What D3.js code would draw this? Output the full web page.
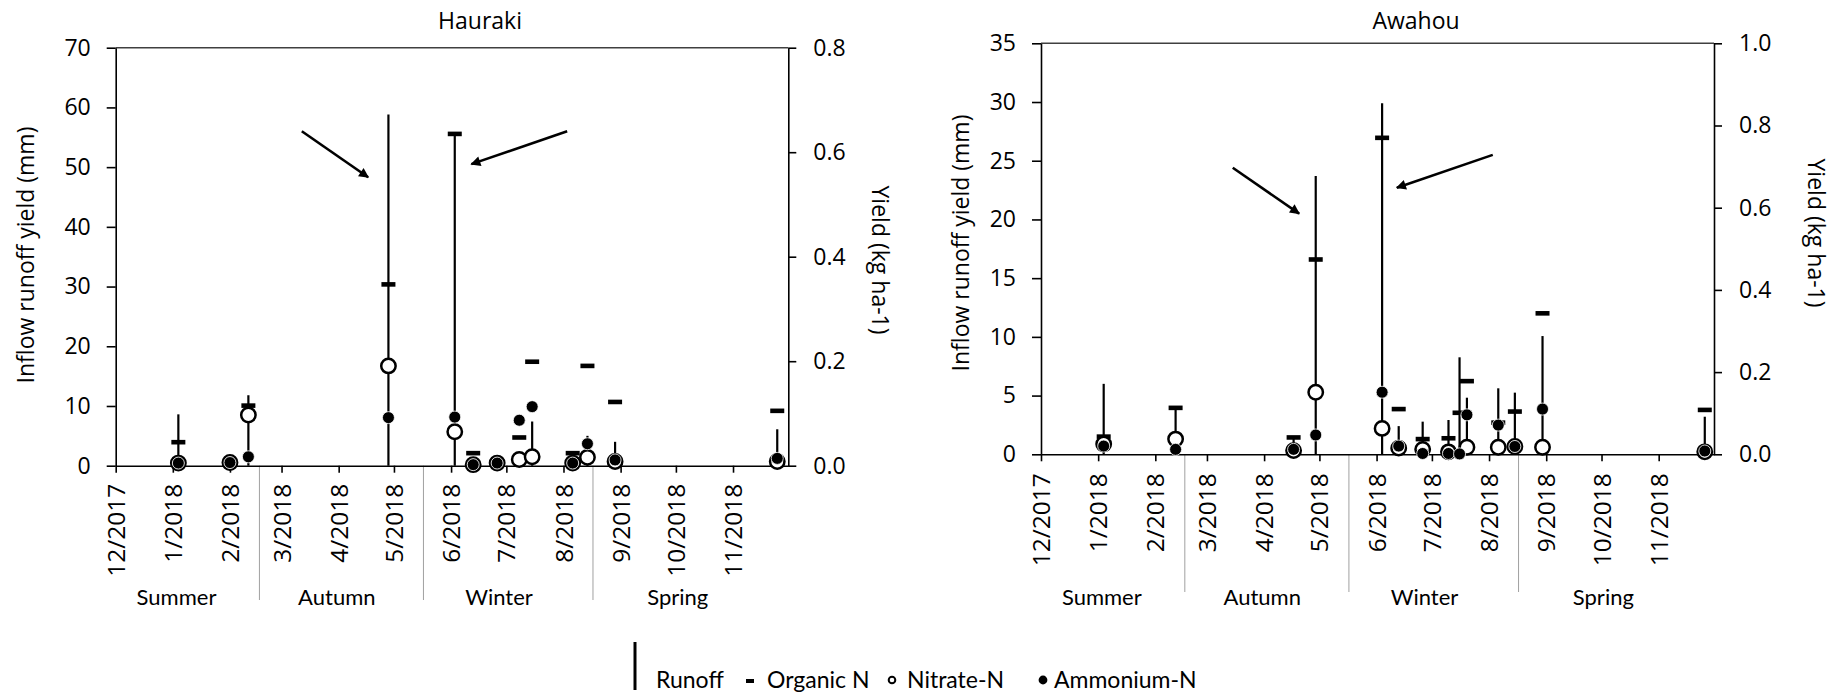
<!DOCTYPE html>
<html>
<head>
<meta charset="utf-8">
<script src="https://cdn.jsdelivr.net/npm/d3@7"></script>
<style>
    body { margin: 0; background: #fff; }
    svg { display: block; }
    text { font-family: 'Open Sans', sans-serif; fill: #000; }
    .season, .legend text { font-family: Lato, sans-serif; }
</style>
</head>
<body>
<div class="chart"></div>
<script>
const parseDate = d3.timeParse('%Y-%m-%d')

// shared time axis
const monthLabels = ['12/2017', '1/2018', '2/2018', '3/2018', '4/2018', '5/2018',
    '6/2018', '7/2018', '8/2018', '9/2018', '10/2018', '11/2018']
const seasons = ['Summer', 'Autumn', 'Winter', 'Spring']
const seasonLabelDates = ['2018-01-03', '2018-03-31', '2018-06-27', '2018-10-02']
const seasonBreaks = ['2018-02-17', '2018-05-17', '2018-08-17']

// Hauraki (runoff in mm, N yields in kg ha-1)
const haurakiDates = ['2018-01-04', '2018-02-01', '2018-02-11', '2018-04-28', '2018-06-03',
    '2018-06-13', '2018-06-26', '2018-07-08', '2018-07-15', '2018-08-06', '2018-08-14',
    '2018-08-29', '2018-11-25']
const haurakiRunoff = [8.6, 0.8, 11.8, 58.8, 55.5, 0.8, 0.8, 1.0, 7.4, 0.8, 5.0, 4.0, 6.1]
const haurakiOrganicN = [0.045, 0.006, 0.115, 0.347, 0.635, 0.024, 0.005, 0.054, 0.199, 0.024, 0.191, 0.122, 0.105]
const haurakiNitrateN = [0.005, 0.006, 0.097, 0.191, 0.065, 0.002, 0.005, 0.012, 0.017, 0.005, 0.016, 0.008, 0.008]
const haurakiAmmoniumN = [0.005, 0.006, 0.017, 0.092, 0.093, 0.002, 0.005, 0.087, 0.113, 0.005, 0.042, 0.011, 0.014]
const haurakiArrowFrom = [['2018-03-12', 56.0], ['2018-08-03', 56.0]]
const haurakiArrowTo = [['2018-04-17', 48.3], ['2018-06-12', 50.5]]

// Awahou
const awahouDates = ['2018-01-04', '2018-02-12', '2018-04-17', '2018-04-29', '2018-06-04',
    '2018-06-13', '2018-06-26', '2018-07-10', '2018-07-16', '2018-07-20', '2018-08-06',
    '2018-08-15', '2018-08-30', '2018-11-26']
const awahouRunoff = [6.0, 3.97, 1.47, 23.7, 29.9, 2.4, 2.78, 2.92, 8.26, 4.82, 5.62, 5.25, 10.07, 3.2]
const awahouOrganicN = [0.043, 0.113, 0.041, 0.474, 0.770, 0.110, 0.037, 0.039, 0.101, 0.178, 0.077, 0.104, 0.343, 0.108]
const awahouNitrateN = [0.025, 0.037, 0.009, 0.151, 0.063, 0.015, 0.012, 0.006, null, 0.017, 0.017, 0.019, 0.017, 0.006]
const awahouAmmoniumN = [0.020, 0.012, 0.012, 0.047, 0.151, 0.020, 0.002, 0.002, 0.001, 0.096, 0.071, 0.019, 0.110, 0.008]
const awahouArrowFrom = [['2018-03-15', 24.4], ['2018-08-03', 25.5]]
const awahouArrowTo = [['2018-04-20', 20.5], ['2018-06-12', 22.7]]

const svg = d3.select('.chart')
    .append('svg')
    .attr('width', 1845)
    .attr('height', 695)

svg.append('defs')
    .append('marker')
    .attr('id', 'arrow')
    .attr('viewBox', '0 0 10 10')
    .attr('refX', 9)
    .attr('refY', 5)
    .attr('markerUnits', 'userSpaceOnUse')
    .attr('markerWidth', 11)
    .attr('markerHeight', 10)
    .attr('orient', 'auto')
    .append('path')
    .attr('d', 'M0,0 L10,5 L0,10 z')
    .attr('fill', '#000')

const drawPanel = (p) => {
    const { left, right, top, bottom } = p.frame

    //configure scales
    const xScale = d3.scaleTime()
        .domain([parseDate('2017-12-01'), parseDate('2018-12-01')])
        .range([left, right])

    const yRunoff = d3.scaleLinear()
        .domain([0, p.runoffMax])
        .range([bottom, top])

    const yYield = d3.scaleLinear()
        .domain([0, p.yieldMax])
        .range([bottom, top])

    const rows = p.dates.map((d, i) => ({
        date: parseDate(d),
        runoff: p.runoff[i],
        organic: p.organic[i],
        nitrate: p.nitrate[i],
        ammonium: p.ammonium[i]
    }))

    const g = svg.append('g')

    // top border
    g.append('line')
        .attr('x1', left)
        .attr('x2', right)
        .attr('y1', top)
        .attr('y2', top)
        .attr('stroke', '#404040')
        .attr('stroke-width', 1.4)

    // season dividers
    g.selectAll('line.divider')
        .data(seasonBreaks)
        .enter()
        .append('line')
            .attr('class', 'divider')
            .attr('x1', (d) => xScale(parseDate(d)))
            .attr('x2', (d) => xScale(parseDate(d)))
            .attr('y1', bottom)
            .attr('y2', p.dividerEnd)
            .attr('stroke', '#a0a0a0')
            .attr('stroke-width', 1)

    //add axes
    const months = d3.timeMonth.range(parseDate('2017-12-01'), parseDate('2018-12-01'))

    const xAxis = g.append('g')
        .attr('transform', `translate(0, ${bottom})`)
        .call(d3.axisBottom(xScale)
            .tickValues(months)
            .tickFormat((d, i) => monthLabels[i])
            .tickSize(7)
            .tickSizeOuter(0))

    const yLeft = g.append('g')
        .attr('transform', `translate(${left}, 0)`)
        .call(d3.axisLeft(yRunoff)
            .tickValues(d3.range(0, p.runoffMax + 0.001, p.runoffStep))
            .tickSize(9)
            .tickSizeOuter(0)
            .tickPadding(16))

    const yRight = g.append('g')
        .attr('transform', `translate(${right}, 0)`)
        .call(d3.axisRight(yYield)
            .tickValues(d3.range(0, p.yieldMax + 0.001, 0.2))
            .tickFormat(d3.format('.1f'))
            .tickSize(8)
            .tickSizeOuter(0)
            .tickPadding(17))

    ;[xAxis, yLeft, yRight].forEach((a) => {
        a.attr('font-family', "'Open Sans', sans-serif")
            .attr('font-size', 23)
        a.selectAll('path, line')
            .attr('stroke', '#000')
            .attr('stroke-width', 1.6)
    })

    xAxis.selectAll('text')
        .attr('x', 0)
        .attr('y', 0)
        .attr('dy', '0.35em')
        .attr('font-size', 24.5)
        .attr('text-anchor', 'end')
        .attr('transform', `translate(0, ${p.labelGap}) rotate(-90)`)

    // titles
    g.append('text')
        .attr('x', p.titleX)
        .attr('y', 29)
        .attr('text-anchor', 'middle')
        .attr('font-size', 23)
        .text(p.name)

    g.append('text')
        .attr('transform', `translate(${p.leftTitle[0]}, ${p.leftTitle[1]}) rotate(-90)`)
        .attr('text-anchor', 'middle')
        .attr('font-size', 23)
        .text('Inflow runoff yield (mm)')

    g.append('text')
        .attr('transform', `translate(${p.rightTitle[0]}, ${p.rightTitle[1]}) rotate(90)`)
        .attr('text-anchor', 'middle')
        .attr('font-size', 23)
        .text('Yield (kg ha-1)')

    // season labels
    g.selectAll('text.season')
        .data(seasons)
        .enter()
        .append('text')
            .attr('class', 'season')
            .attr('x', (d, i) => xScale(parseDate(seasonLabelDates[i])))
            .attr('y', 605)
            .attr('text-anchor', 'middle')
            .attr('font-size', 22)
            .text((d) => d)

    // runoff stems
    g.selectAll('line.runoff')
        .data(rows)
        .enter()
        .append('line')
            .attr('class', 'runoff')
            .attr('x1', (d) => xScale(d.date))
            .attr('x2', (d) => xScale(d.date))
            .attr('y1', yRunoff(0))
            .attr('y2', (d) => yRunoff(d.runoff))
            .attr('stroke', '#000')
            .attr('stroke-width', 2.2)

    // organic N dashes
    g.selectAll('rect.organic')
        .data(rows)
        .enter()
        .append('rect')
            .attr('class', 'organic')
            .attr('x', (d) => xScale(d.date) - 7)
            .attr('y', (d) => yYield(d.organic) - 2.3)
            .attr('width', 14)
            .attr('height', 4.6)
            .attr('fill', '#000')

    // nitrate N
    g.selectAll('circle.nitrate')
        .data(rows.filter((d) => d.nitrate != null))
        .enter()
        .append('circle')
            .attr('class', 'nitrate')
            .attr('cx', (d) => xScale(d.date))
            .attr('cy', (d) => yYield(d.nitrate))
            .attr('r', 7.2)
            .attr('fill', '#fff')
            .attr('stroke', '#000')
            .attr('stroke-width', 2.5)

    // ammonium N
    g.selectAll('circle.ammonium')
        .data(rows)
        .enter()
        .append('circle')
            .attr('class', 'ammonium')
            .attr('cx', (d) => xScale(d.date))
            .attr('cy', (d) => yYield(d.ammonium))
            .attr('r', 6)
            .attr('fill', '#000')
            .attr('stroke', '#fff')
            .attr('stroke-width', 0.8)

    // arrows
    g.selectAll('line.arrow')
        .data(p.arrowFrom)
        .enter()
        .append('line')
            .attr('class', 'arrow')
            .attr('x1', (d) => xScale(parseDate(d[0])))
            .attr('y1', (d) => yRunoff(d[1]))
            .attr('x2', (d, i) => xScale(parseDate(p.arrowTo[i][0])))
            .attr('y2', (d, i) => yRunoff(p.arrowTo[i][1]))
            .attr('stroke', '#000')
            .attr('stroke-width', 2.6)
            .attr('marker-end', 'url(#arrow)')
}

drawPanel({
    name: 'Hauraki',
    frame: { left: 115.7, right: 788.3, top: 47.7, bottom: 465.7 },
    runoffMax: 70, runoffStep: 10, yieldMax: 0.8,
    dates: haurakiDates, runoff: haurakiRunoff, organic: haurakiOrganicN,
    nitrate: haurakiNitrateN, ammonium: haurakiAmmoniumN,
    arrowFrom: haurakiArrowFrom, arrowTo: haurakiArrowTo,
    titleX: 480, leftTitle: [34, 255], rightTitle: [872, 260],
    labelGap: 18, dividerEnd: 600
})

drawPanel({
    name: 'Awahou',
    frame: { left: 1041, right: 1714, top: 43.3, bottom: 454.3 },
    runoffMax: 35, runoffStep: 5, yieldMax: 1.0,
    dates: awahouDates, runoff: awahouRunoff, organic: awahouOrganicN,
    nitrate: awahouNitrateN, ammonium: awahouAmmoniumN,
    arrowFrom: awahouArrowFrom, arrowTo: awahouArrowTo,
    titleX: 1416, leftTitle: [969, 243], rightTitle: [1808, 233],
    labelGap: 19, dividerEnd: 592
})

//add legend
const legendItems = ['Runoff', 'Organic N', 'Nitrate-N', 'Ammonium-N']
const legendTextX = [656, 767, 907, 1054]

const legend = svg.append('g').attr('class', 'legend')

legend.append('line')
    .attr('x1', 635).attr('x2', 635)
    .attr('y1', 642).attr('y2', 690)
    .attr('stroke', '#000')
    .attr('stroke-width', 3)

legend.append('rect')
    .attr('x', 746).attr('y', 679)
    .attr('width', 8).attr('height', 4)
    .attr('fill', '#000')

legend.append('circle')
    .attr('cx', 892).attr('cy', 680).attr('r', 3.3)
    .attr('fill', '#fff')
    .attr('stroke', '#000')
    .attr('stroke-width', 2)

legend.append('circle')
    .attr('cx', 1043).attr('cy', 680).attr('r', 4.4)
    .attr('fill', '#000')

legend.selectAll('text')
    .data(legendItems)
    .enter()
    .append('text')
        .attr('x', (d, i) => legendTextX[i])
        .attr('y', 688)
        .attr('font-size', 23)
        .text((d) => d)
</script>
</body>
</html>
